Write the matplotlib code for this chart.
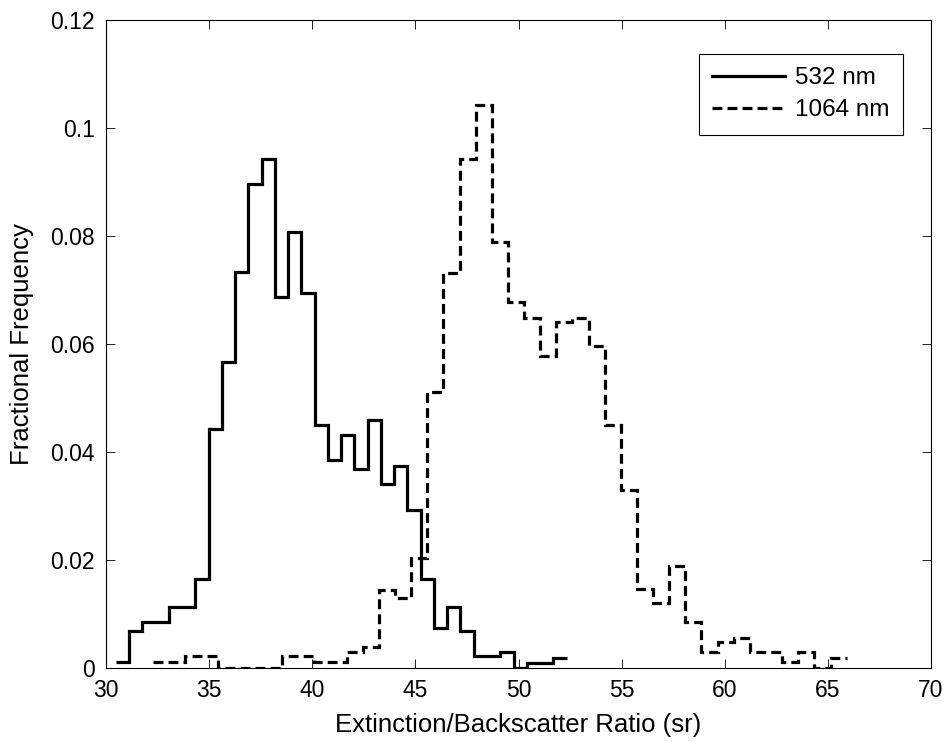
import matplotlib
matplotlib.use("Agg")
import matplotlib.pyplot as plt
import numpy as np

plt.rcParams['font.family'] = ['Liberation Sans', 'DejaVu Sans']

# histogram of lidar ratio, fractional frequency per bin
# 532 nm: 34 bins from 30.47 to 52.33 sr
freq_532 = [0.0011, 0.0068, 0.0085, 0.0085, 0.0113, 0.0113, 0.0165, 0.0442,
            0.0566, 0.0733, 0.0897, 0.0942, 0.0687, 0.0807, 0.0694, 0.0450,
            0.0386, 0.0431, 0.0368, 0.0459, 0.0340, 0.0374, 0.0293, 0.0164,
            0.0074, 0.0113, 0.0068, 0.0022, 0.0022, 0.0029, 0.0, 0.0010,
            0.0010, 0.0019]
range_532 = (30.47, 52.33)

# 1064 nm: 43 bins from 32.28 to 65.91 sr
freq_1064 = [0.0011, 0.0011, 0.0022, 0.0022, 0.0, 0.0, 0.0, 0.0,
             0.0022, 0.0022, 0.0011, 0.0011, 0.0029, 0.0038, 0.0144, 0.0130,
             0.0203, 0.0511, 0.0732, 0.0942, 0.1042, 0.0788, 0.0677, 0.0649,
             0.0578, 0.0641, 0.0649, 0.0596, 0.0450, 0.0329, 0.0147, 0.0120,
             0.0188, 0.0085, 0.0029, 0.0049, 0.0056, 0.0029, 0.0029, 0.0012,
             0.0029, 0.0, 0.0019]
range_1064 = (32.28, 65.91)

xticks = [30, 35, 40, 45, 50, 55, 60, 65, 70]
yticks = [0, 0.02, 0.04, 0.06, 0.08, 0.1, 0.12]
ytick_labels = ['0', '0.02', '0.04', '0.06', '0.08', '0.1', '0.12']

edges_532 = np.linspace(range_532[0], range_532[1], len(freq_532) + 1)
edges_1064 = np.linspace(range_1064[0], range_1064[1], len(freq_1064) + 1)

fig = plt.figure(figsize=(9.47, 7.42), dpi=100)
ax = fig.add_axes([106 / 947, 1 - 668 / 742, 825 / 947, 648 / 742])

ax.stairs(freq_532, edges_532, baseline=None, color='black', linewidth=2.3,
          label='532 nm')
ax.stairs(freq_1064, edges_1064, baseline=None, color='black', linewidth=2.3,
          linestyle=(0, (3.1, 1.6)), label='1064 nm')

ax.set_xlim(30, 70)
ax.set_ylim(0, 0.12)
ax.set_xticks(xticks)
ax.set_yticks(yticks)
ax.set_yticklabels(ytick_labels)
ax.tick_params(direction='in', top=True, right=True, length=6.5, width=0.6,
               labelsize=16.5, pad=8)
for s in ax.spines.values():
    s.set_linewidth(0.8)

ax.set_xlabel('Extinction/Backscatter Ratio (sr)', fontsize=18.5, labelpad=8)
ax.set_ylabel('Fractional Frequency', fontsize=18.5, labelpad=12)

leg = ax.legend(loc='upper right', bbox_to_anchor=(0.966, 0.9475),
                borderaxespad=0, fontsize=17.5, handlelength=3.0,
                handletextpad=0.4, labelspacing=0.4, borderpad=0.55,
                fancybox=False, framealpha=1, edgecolor='black')
leg.get_frame().set_linewidth(0.8)

fig.savefig('out.png', dpi=100)
